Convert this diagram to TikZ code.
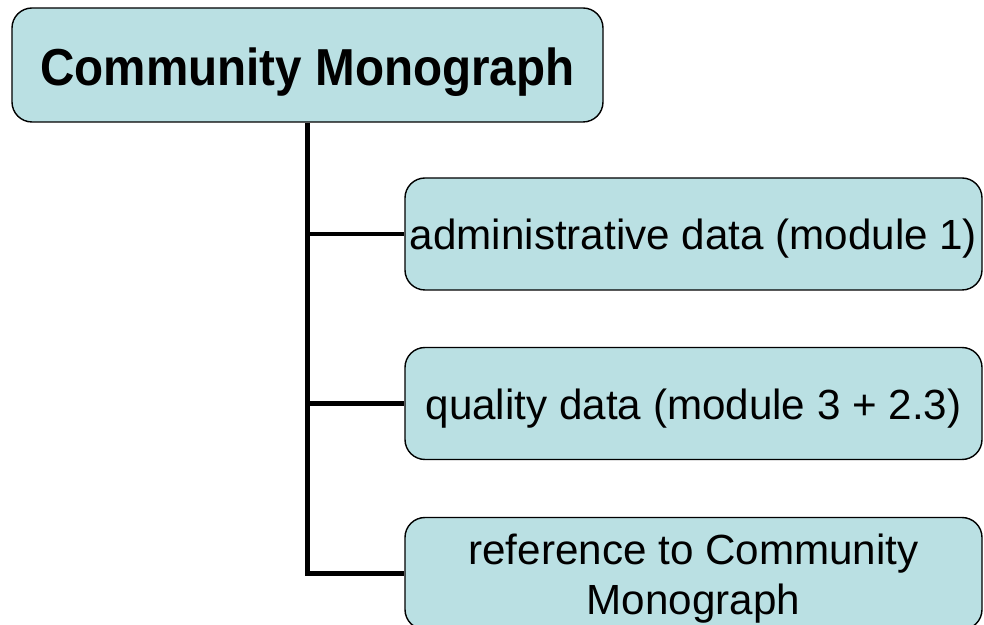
\documentclass[tikz,border=0pt]{standalone}
\usepackage{fontspec}
\setmainfont{Liberation Sans}
\usepackage{graphicx}
\usepackage{tikz}
\usetikzlibrary{positioning}
\usepackage{xcolor}
\definecolor{boxfill}{RGB}{186,224,227}

\begin{document}
\begin{tikzpicture}[
        topicbox/.style={draw=black, fill=boxfill, line width=0.8pt, rounded corners=0.4cm, minimum width=11.54cm, minimum height=2.24cm, inner sep=0pt, align=center, font=\fontsize{24}{28.4}\selectfont},
        stem/.style={line width=2.8pt}
    ]
        \useasboundingbox (0, 0) rectangle (19.68, 12.5);
        % Title
        \node [draw=black, fill=boxfill, line width=0.8pt, rounded corners=0.4cm, minimum width=11.82cm, minimum height=2.28cm, inner sep=0pt, text height=22.9pt, text depth=0pt, font=\fontsize{29.6}{34}\selectfont\bfseries] (title) at (6.15, 11.2) {\scalebox{0.915}[1]{Community Monograph}};
        % Modules
        \node [topicbox, text height=18.2pt, text depth=0pt] (admin) at (13.87, 7.82) {administrative data (module 1)};
        \node [topicbox, text height=18.2pt, text depth=0pt] (quality) at (13.87, 4.43) {quality data (module 3 + 2.3)};
        \node [topicbox] (reference) at (13.87, 1.03) {\rule{0pt}{23.1pt}reference to Community\\Monograph};
        % Stem and branches
        \draw [stem] (title.south) |- (reference.west);
        \draw [stem] (title.south |- admin.west) -- (admin.west);
        \draw [stem] (title.south |- quality.west) -- (quality.west);
    \end{tikzpicture}
\end{document}
